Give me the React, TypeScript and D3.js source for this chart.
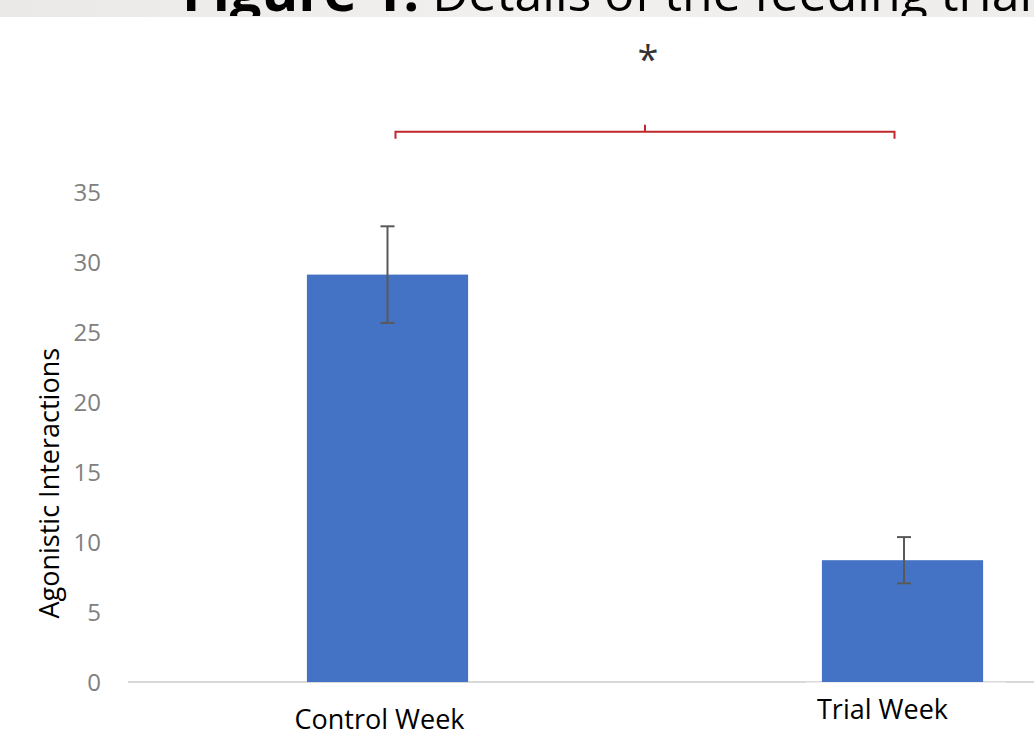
import React from "react";
import * as d3 from "d3";

const categories = ["Control Week", "Trial Week"];
const means = [29.1, 8.7];
const errors = [3.45, 1.65];
const yTicks = [0, 5, 10, 15, 20, 25, 30, 35];
const significance = "*";
const titleBold = "Figure 1.";
const titleRest = " Details of the feeding trial";
const yLabel = "Agonistic Interactions";

const W = 1034;
const H = 740;
const FONT = "'Open Sans', 'Noto Sans', sans-serif";

export default function App() {
  const x = d3
    .scaleBand<string>()
    .domain(categories)
    .range([130, 1160])
    .paddingInner(0.687)
    .paddingOuter(0.3435);
  const y = d3.scaleLinear().domain([0, 35]).range([682, 192]);

  const c1 = x(categories[0])! + x.bandwidth() / 2;
  const c2 = x(categories[1])! + x.bandwidth() / 2;
  const bx1 = c1 + 8;
  const bx2 = c2 - 8;
  const by = y(39.3);
  const mid = (bx1 + bx2) / 2;

  return (
    <div style={{ position: "absolute", left: 0, top: 0 }}>
      <svg width={W} height={H} style={{ display: "block", background: "#fff" }}>
        <defs>
          <linearGradient id="band" x1="0" x2="1" y1="0" y2="0">
            <stop offset="0" stopColor="#ebe9e7" />
            <stop offset="0.5" stopColor="#f2f0ef" />
            <stop offset="1" stopColor="#efedeb" />
          </linearGradient>
          <clipPath id="titleClip">
            <rect x={0} y={0} width={W} height={16} />
          </clipPath>
        </defs>

        {/* cropped title strip */}
        <rect x={0} y={0} width={W} height={17} fill="url(#band)" />
        <text
          x={182}
          y={11}
          clipPath="url(#titleClip)"
          fontFamily={FONT}
          fontSize={50}
          fill="#000"
        >
          <tspan fontWeight="bold" fontSize={56}>{titleBold}</tspan>
          <tspan>{titleRest}</tspan>
        </text>

        {/* y tick labels */}
        {yTicks.map((t) => (
          <text
            key={t}
            x={101}
            y={y(t)}
            dy="0.36em"
            textAnchor="end"
            fontFamily={FONT}
            fontSize={24}
            fill="#808080"
          >
            {t}
          </text>
        ))}

        {/* y axis title */}
        <text
          transform={`translate(59,${y(14.2)}) rotate(-90)`}
          textAnchor="middle"
          fontFamily={FONT}
          fontSize={27}
          fill="#000"
        >
          {yLabel}
        </text>

        {/* baseline */}
        <line x1={128} x2={W} y1={y(0)} y2={y(0)} stroke="#d9d9d9" strokeWidth={2} />

        {/* bars */}
        {categories.map((c, i) => (
          <rect
            key={c}
            x={x(c)}
            y={y(means[i])}
            width={x.bandwidth()}
            height={y(0) - y(means[i])}
            fill="#4472c4"
          />
        ))}

        {/* error bars */}
        {categories.map((c, i) => {
          const cx = x(c)! + x.bandwidth() / 2 + (i === 1 ? 1.5 : 0);
          const hi = y(means[i] + errors[i]);
          const lo = y(means[i] - errors[i]);
          return (
            <g key={c} stroke="#595959" strokeWidth={2}>
              <line x1={cx} x2={cx} y1={hi} y2={lo} />
              <line x1={cx - 7} x2={cx + 7} y1={hi} y2={hi} />
              <line x1={cx - 7} x2={cx + 7} y1={lo} y2={lo} />
            </g>
          );
        })}

        {/* white patch covering the second label */}
        <rect x={806} y={y(0) + 0.5} width={200} height={H - y(0)} fill="#fff" />

        {/* category labels */}
        <text
          x={c1 - 8}
          y={729}
          textAnchor="middle"
          fontFamily={FONT}
          fontSize={27}
          fill="#000"
        >
          {categories[0]}
        </text>
        <text
          x={c2 - 20}
          y={719}
          textAnchor="middle"
          fontFamily={FONT}
          fontSize={27}
          fill="#000"
        >
          {categories[1]}
        </text>

        {/* significance bracket */}
        <path
          d={`M${bx1},${by + 7}V${by}H${bx2}V${by + 7}M${mid},${by}V${by - 7}`}
          fill="none"
          stroke="#c0282d"
          strokeWidth={2}
        />
        <text
          x={mid + 3}
          y={73}
          textAnchor="middle"
          fontFamily={FONT}
          fontSize={38}
          fill="#333"
        >
          {significance}
        </text>
      </svg>
    </div>
  );
}
